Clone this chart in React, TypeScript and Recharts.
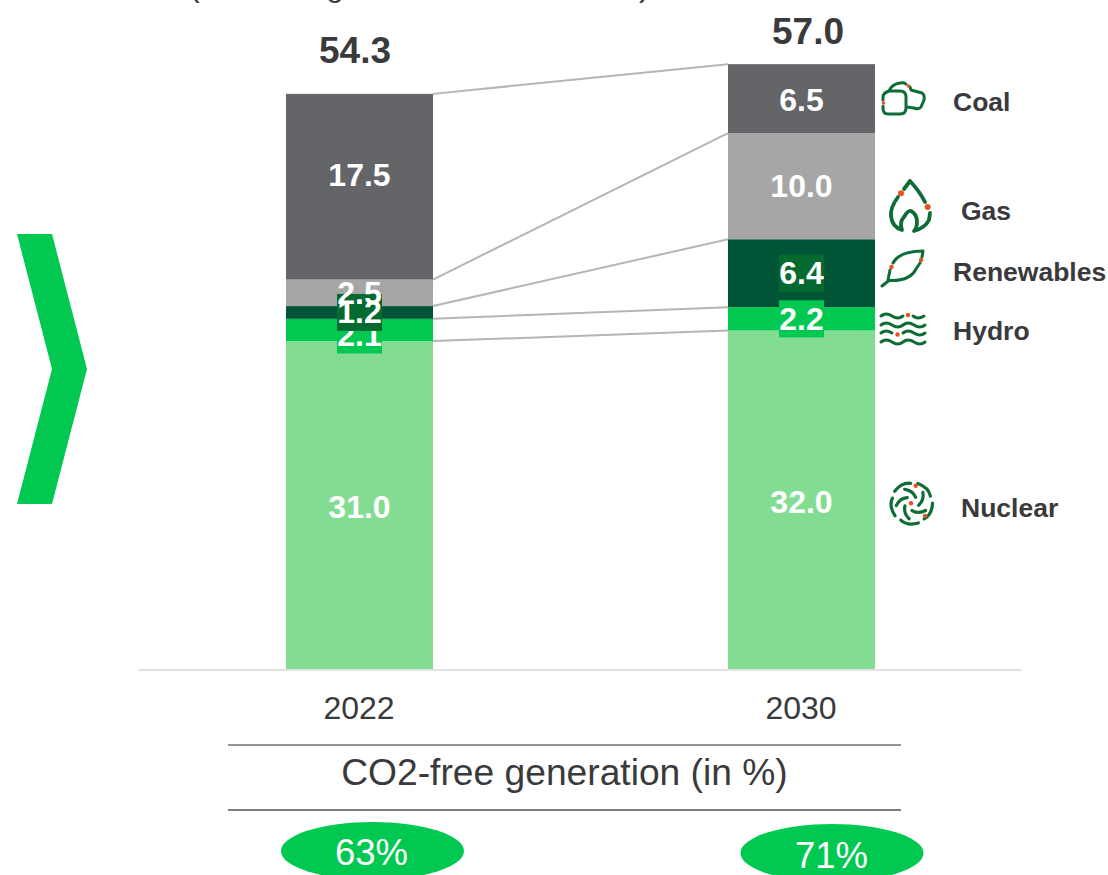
import React from "react";
import { ComposedChart, Bar, Line, XAxis, YAxis, LabelList } from "recharts";

const years = ["2022", "2030"];
const nuclear = [31.0, 32.0];
const hydro = [2.1, 2.2];
const renewables = [1.2, 6.4];
const gas = [2.5, 10.0];
const coal = [17.5, 6.5];
const totals = [54.3, 57.0];
const co2Free = ["63%", "71%"];

const seriesOrder = [
  { key: "nuclear", name: "Nuclear", values: nuclear, color: "#82DD92" },
  { key: "hydro", name: "Hydro", values: hydro, color: "#00C851" },
  { key: "renewables", name: "Renewables", values: renewables, color: "#005536" },
  { key: "gas", name: "Gas", values: gas, color: "#A6A6A6" },
  { key: "coal", name: "Coal", values: coal, color: "#636569" },
];

const tableData = years.map((year, i) => {
  const row: any = { year, total: totals[i] };
  seriesOrder.forEach((s) => (row[s.key] = s.values[i]));
  return row;
});

const FONT = '"Liberation Sans", Arial, sans-serif';
const TEXT = "#3A3A3C";
const GREEN = "#00C851";
const ICON = "#0E6D36";
const DOT = "#E8501E";
const WIDTH = 1108;
const HEIGHT = 875;
const M_LEFT = 138;
const M_RIGHT = 86;
const BAND = (WIDTH - M_LEFT - M_RIGHT) / years.length;

// label tweaks [2022, 2030], in pixels
const labelNudge: Record<string, number[]> = {
  nuclear: [1, 2],
  hydro: [5, 0],
  renewables: [0, 0],
  gas: [0, 0],
  coal: [-12, 1],
};
const boxColor: Record<string, string | null> = {
  nuclear: null,
  hydro: "#00C851",
  renewables: "#056A30",
  gas: null,
  coal: null,
};
const totalNudgeY = [-44, -34];
const totalNudgeX = [-4, 7];

const cumulative = (idx: number, seriesIdx: number) =>
  seriesOrder.slice(0, seriesIdx + 1).reduce((a, s) => a + s.values[idx], 0);

function makeShape(seriesIdx: number) {
  const color = seriesOrder[seriesIdx].color;
  return (props: any) => {
    const { x, y, width, height, index } = props;
    let connector = null;
    if (index === 0) {
      const k = height / seriesOrder[seriesIdx].values[0];
      const base = y + k * cumulative(0, seriesIdx);
      const nextY = base - k * cumulative(1, seriesIdx);
      connector = (
        <line x1={x + width} y1={y} x2={x + BAND} y2={nextY} stroke="#B5B5B5" strokeWidth={2} />
      );
    }
    return (
      <g>
        <rect x={x} y={y} width={width} height={height} fill={color} />
        {connector}
      </g>
    );
  };
}

function makeLabel(key: string) {
  return (props: any) => {
    const { x, y, width, height, value, index } = props;
    const cx = x + width / 2;
    const cy = y + height / 2 + labelNudge[key][index];
    const box = boxColor[key];
    return (
      <g>
        {box && <rect x={cx - 22.5} y={cy - 18.5} width={45} height={37} fill={box} />}
        <text x={cx} y={cy + 11} textAnchor="middle" fontFamily={FONT} fontWeight={700} fontSize={32} fill="#FFFFFF">
          {Number(value).toFixed(1)}
        </text>
      </g>
    );
  };
}

const TotalLabel = (props: any) => {
  const { x, y, value, index } = props;
  return (
    <text x={x + totalNudgeX[index]} y={y + totalNudgeY[index] + 13} textAnchor="middle" fontFamily={FONT} fontWeight={700} fontSize={37} fill={TEXT}>
      {Number(value).toFixed(1)}
    </text>
  );
};

const legendItems = [
  { name: "Coal", x: 953, y: 102 },
  { name: "Gas", x: 961, y: 211 },
  { name: "Renewables", x: 953, y: 272 },
  { name: "Hydro", x: 953, y: 331 },
  { name: "Nuclear", x: 961, y: 508 },
];

const iconStroke = { fill: "none", stroke: ICON, strokeWidth: 3, strokeLinecap: "round" as const, strokeLinejoin: "round" as const };

const Icons = () => (
  <g>
    {/* coal */}
    <g {...iconStroke}>
      <path d="M889 91 H900 Q906 91 906 97 V108 Q906 114 900 114 H888 Q883 114 883 108 V106 M883 100 V97 Q883 93 889 91" />
      <path d="M889 91 Q892 84 900 83 Q904 82 906 84 M910 87 L911 90 L922 93 Q925 95 924 100 L921 107 Q919 110 914 108 L907 107" />
    </g>
    <circle cx={908.5} cy={86} r={1.8} fill={DOT} />
    <circle cx={883.5} cy={103} r={1.8} fill={DOT} />
    {/* gas */}
    <g {...iconStroke} strokeWidth={3.8}>
      <path d="M910 181 L904 189 M898 197 Q890 208 891 216 Q892 227 902 230 Q899 222 904 217 Q908 210 911 211 Q917 214 917 222 Q917 228 914 231 Q925 228 929 220 L930 213 M925 202 Q920 192 910 181" />
    </g>
    <circle cx={901} cy={193.3} r={3} fill={DOT} />
    <circle cx={927.7} cy={207} r={3} fill={DOT} />
    {/* leaf */}
    <g {...iconStroke}>
      <path d="M882 286 L889 280.5 C900 281 911 279 916 269 L920 263 M922 257 L923 251 C910 251 898 254 893 263 M890 270 L888 280" />
    </g>
    <circle cx={891.5} cy={267} r={2.2} fill={DOT} />
    <circle cx={921} cy={260} r={2.2} fill={DOT} />
    {/* hydro */}
    <g {...iconStroke}>
      <path d="M881 316 q5 -4 11 0 t11 0 M913 316 q5 4 11 0" />
      <path d="M881 325 q5 -4 11 0 t11 0 t11 0 t11 0" />
      <path d="M881 333 q5 -4 11 0 M903 333 q5 -4 11 0 t11 0" />
      <path d="M881 342 q5 -4 11 0 t11 0 t11 0 t11 0" />
    </g>
    <circle cx={908} cy={315} r={2.2} fill={DOT} />
    <circle cx={897.5} cy={334.5} r={2.2} fill={DOT} />
    {/* nuclear */}
    <g transform="translate(911.7 503.3)">
      {[0, 72, 144, 216, 288].map((a) => (
        <g key={a} transform={`rotate(${a})`} {...iconStroke} strokeWidth={3.2}>
          <path d="M-17 -12 Q-10 -21 -1 -20" />
          <path d="M-7 -14 Q1 -13 4 -6" />
        </g>
      ))}
    </g>
    <circle cx={915.7} cy={485.7} r={2.2} fill={DOT} />
    <circle cx={911} cy={503.3} r={2.2} fill={DOT} />
    <circle cx={925} cy={516} r={2.2} fill={DOT} />
  </g>
);

export default function App() {
  return (
    <div style={{ position: "absolute", left: 0, top: 0, width: WIDTH, height: HEIGHT, overflow: "hidden", background: "#fff" }}>
      <div style={{ position: "absolute", left: 0, top: 0 }}>
        <ComposedChart
          width={WIDTH}
          height={HEIGHT}
          data={tableData}
          margin={{ top: 33.4, right: M_RIGHT, bottom: 165, left: M_LEFT }}
          barCategoryGap={0}
        >
          <XAxis
            dataKey="year"
            height={40}
            interval={0}
            tickLine={false}
            axisLine={{ stroke: "#E2E2E2", strokeWidth: 2 }}
            tick={{ fontFamily: FONT, fontSize: 32, fill: TEXT }}
            tickMargin={20}
          />
          <YAxis hide domain={[0, 60]} />
          {seriesOrder.map((s, i) => (
            <Bar key={s.key} dataKey={s.key} stackId="a" barSize={147} fill={s.color} isAnimationActive={false} shape={makeShape(i)}>
              <LabelList dataKey={s.key} content={makeLabel(s.key)} />
            </Bar>
          ))}
          <Line dataKey="total" stroke="none" dot={false} activeDot={false} legendType="none" isAnimationActive={false}>
            <LabelList dataKey="total" content={TotalLabel} />
          </Line>
        </ComposedChart>
      </div>
      <svg width={WIDTH} height={HEIGHT} style={{ position: "absolute", left: 0, top: 0, pointerEvents: "none" }}>
        <g fontFamily={FONT} fontSize={32} fill={TEXT}>
          <text x={189} y={-4}>(</text>
          <text x={326} y={-4}>g</text>
          <text x={639} y={-4}>)</text>
        </g>
        <polygon points="17,234 52,234 87,369 52,504 17,504 52,369" fill={GREEN} />
        <Icons />
        {legendItems.map((l) => (
          <text key={l.name} x={l.x} y={l.y + 9} fontFamily={FONT} fontWeight={700} fontSize={26.5} fill={TEXT}>
            {l.name}
          </text>
        ))}
        <line x1={228} y1={745} x2={901} y2={745} stroke="#949494" strokeWidth={2} />
        <line x1={228} y1={810} x2={901} y2={810} stroke="#7F7F7F" strokeWidth={2} />
        <text x={564.5} y={785} textAnchor="middle" fontFamily={FONT} fontSize={37.2} fill={TEXT}>
          CO2-free generation (in %)
        </text>
        <ellipse cx={372.5} cy={851} rx={91.5} ry={29} fill={GREEN} />
        <ellipse cx={832} cy={853} rx={91.5} ry={29} fill={GREEN} />
        <text x={371.5} y={865} textAnchor="middle" fontFamily={FONT} fontSize={36.5} fill="#FFFFFF">{co2Free[0]}</text>
        <text x={831.5} y={868} textAnchor="middle" fontFamily={FONT} fontSize={36.5} fill="#FFFFFF">{co2Free[1]}</text>
      </svg>
    </div>
  );
}
